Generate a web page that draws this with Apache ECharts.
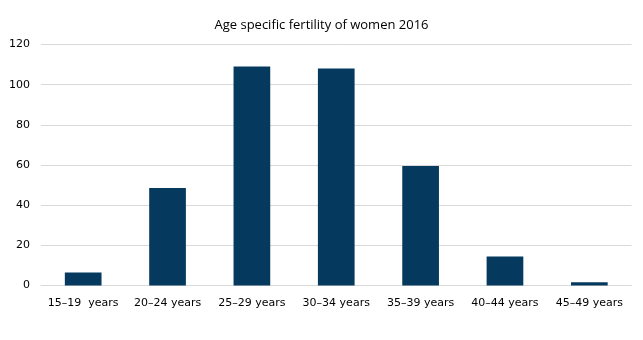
<!DOCTYPE html>
<html>
<head>
<meta charset="utf-8">
<script src="https://cdn.jsdelivr.net/npm/echarts@6/dist/echarts.min.js"></script>
<style>html,body{margin:0;padding:0;background:#fff}#c{width:643px;height:340px}</style>
</head>
<body>
<div id="c"></div>
<script>
var categories = ['15–19  years', '20–24 years', '25–29 years', '30–34 years', '35–39 years', '40–44 years', '45–49 years'];
var values = [6.5, 48.6, 109.1, 108.1, 59.5, 14.5, 1.6];
var yTicks = [0, 20, 40, 60, 80, 100, 120];

var chart = echarts.init(document.getElementById('c'), null, {renderer: 'canvas'});
chart.setOption({
  animation: false,
  title: {
    text: 'Age specific fertility of women 2016',
    left: 'center',
    top: 14,
    textStyle: {fontFamily: 'Open Sans', fontSize: 13, fontWeight: 'normal', color: '#000'}
  },
  grid: {left: 41, right: 11.5, top: 44.5, bottom: 54.5, containLabel: false},
  xAxis: {
    type: 'category',
    data: categories,
    axisLine: {show: true, lineStyle: {color: '#d9d9d9', width: 1}},
    axisTick: {show: false},
    axisLabel: {fontFamily: 'DejaVu Sans', fontSize: 11, color: '#000', margin: 12, interval: 0}
  },
  yAxis: {
    type: 'value',
    min: yTicks[0],
    max: yTicks[yTicks.length - 1],
    interval: 20,
    axisLine: {show: false},
    axisTick: {show: false},
    splitLine: {lineStyle: {color: '#d9d9d9', width: 1}},
    axisLabel: {fontFamily: 'DejaVu Sans', fontSize: 11, color: '#000', margin: 11}
  },
  series: [{
    type: 'bar',
    data: values,
    barWidth: '43.5%',
    itemStyle: {color: '#053a5e'}
  }]
});
</script>
</body>
</html>
